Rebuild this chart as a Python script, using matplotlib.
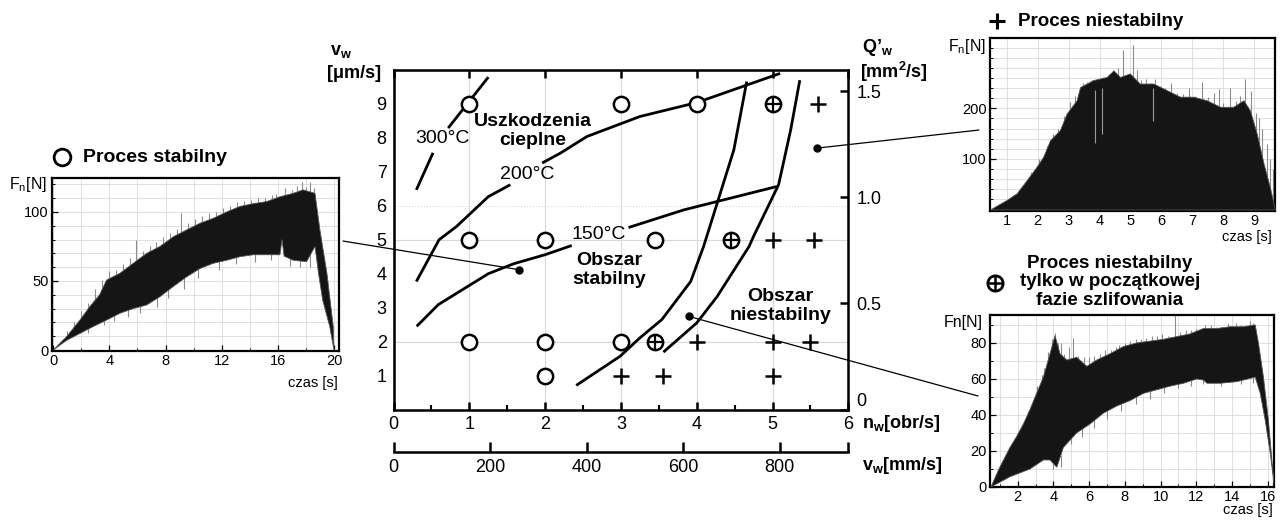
import numpy as np
import matplotlib.pyplot as plt
from matplotlib.lines import Line2D
from matplotlib.patches import ConnectionPatch, Polygon
from matplotlib.ticker import MultipleLocator

plt.rcParams['font.family'] = ['Liberation Sans', 'DejaVu Sans']
plt.rcParams['mathtext.fontset'] = 'custom'
plt.rcParams['mathtext.rm'] = 'Liberation Sans'
plt.rcParams['mathtext.bf'] = 'Liberation Sans:bold'
plt.rcParams['mathtext.it'] = 'Liberation Sans:italic'

# ---------------- main map: n_w [obr/s] vs v_w [um/s] ----------------
stable_n = [1, 3, 4, 1, 2, 3.45, 1, 2, 3, 2]
stable_v = [9, 9, 9, 5, 5, 5, 2, 2, 2, 1]
partial_n = [5, 4.45, 3.45]
partial_v = [9, 5, 2]
unstable_n = [5.6, 5, 5.55, 4, 5, 5.5, 3, 3.55, 5]
unstable_v = [9, 5, 5, 2, 2, 2, 1, 1, 1]

# isotherms (split where the label sits)
iso300_a_n = [0.30, 0.52]
iso300_a_v = [6.47, 7.56]
iso300_b_n = [0.72, 1.25]
iso300_b_v = [8.29, 9.79]
iso200_a_n = [0.30, 0.60, 0.83, 1.25, 1.54]
iso200_a_v = [3.77, 5.00, 5.39, 6.27, 6.62]
iso200_b_n = [1.96, 2.20, 2.55, 3.25, 4.00, 5.10]
iso200_b_v = [7.26, 7.55, 8.04, 8.63, 9.04, 9.90]
iso150_a_n = [0.305, 0.59, 1.25, 1.58, 2.00, 2.35]
iso150_a_v = [2.45, 3.09, 4.00, 4.29, 4.56, 4.83]
iso150_b_n = [3.10, 3.83, 5.06]
iso150_b_v = [5.36, 5.88, 6.57]

# stability boundaries
bound_a_n = [2.41, 2.99, 3.25, 3.54, 3.92, 4.09, 4.28, 4.49, 4.66]
bound_a_v = [0.71, 1.57, 2.11, 2.65, 3.77, 4.80, 6.15, 7.65, 9.66]
bound_b_n = [3.56, 4.00, 4.27, 4.69, 4.75, 5.08, 5.24, 5.36]
bound_b_v = [1.69, 2.55, 3.33, 4.80, 5.10, 6.62, 8.24, 9.70]

# measurement points shown in the insets
probe_n = [1.65, 3.90, 5.59]
probe_v = [4.12, 2.74, 7.70]

n_ticks = [0, 1, 2, 3, 4, 5, 6]
v_ticks = [1, 2, 3, 4, 5, 6, 7, 8, 9]
q_ticks = [0, 0.5, 1.0, 1.5]
q_labels = ['0', '0.5', '1.0', '1.5']
vmm_ticks = [0, 200, 400, 600, 800]
wheel_d = 50  # mm, v_w = pi*d*n_w

# ---------------- insets: F_n(t) ----------------
# stable process
st_up_t = [0, 0.95, 1.9, 2.6, 3.3, 3.8, 4.75, 5.7, 6.65, 7.6, 8.55, 9.5, 10.45, 11.4, 12.35,
           13.3, 14.25, 15.2, 16.15, 17.1, 17.8, 18.65, 19.0, 19.5, 19.95, 20.0]
st_up_f = [0, 9.7, 21.7, 31.4, 40, 50.7, 55.6, 62.8, 70, 75, 82, 87, 91.8, 95.4, 100,
           104, 106, 107.5, 111, 113.5, 116, 113.5, 87, 55.6, 17, 0]
st_lo_t = [0, 0.95, 1.9, 2.85, 3.8, 4.75, 5.7, 6.65, 7.6, 8.55, 9.5, 10.45, 11.4, 12.35, 13.3,
           14.25, 15.2, 16.15, 16.3, 16.45, 17.1, 18.05, 18.65, 18.9, 19.2, 19.7, 20.0]
st_lo_f = [0, 7, 12, 17, 21.7, 26.6, 30, 32.6, 38.6, 46, 53, 59, 62.8, 65, 67.6,
           69, 69, 69, 80, 68, 65, 64, 75, 55.6, 36, 17, 0]
st_spk_t = [1.0, 1.5, 2.0, 2.5, 3.0, 3.5, 4.0, 4.5, 5.0, 5.5, 5.9, 6.4, 6.9, 7.3, 7.8, 8.3,
            8.8, 9.1, 9.6, 10.1, 10.6, 11.1, 11.6, 12.1, 12.6, 13.1, 13.6, 14.1, 14.6, 15.1,
            15.6, 15.9, 16.5, 17.0, 17.4, 17.7, 18.0, 18.3, 18.6]
st_spk_f = [14, 20, 28, 34, 44, 51, 57, 58, 62, 67, 80, 72, 75, 78, 82, 85,
            88, 99, 92, 95, 97, 99, 100, 103, 104, 107, 108, 109, 110, 110,
            112, 113, 117, 116, 119, 122, 118, 122, 117]
st_dn_t = [2.5, 3.6, 4.3, 5.3, 6.2, 7.4, 8.2, 9.3, 10.3, 11.8, 13.0, 14.4, 15.5, 16.9, 17.6, 18.3]
st_dn_lo = [12, 18, 21, 24, 27, 31, 38, 44, 52, 58, 62, 64, 65, 61, 60, 60]
st_dn_hi = [18, 24, 28, 32, 35, 40, 48, 56, 64, 68, 72, 74, 74, 70, 70, 70]

# unstable process
un_t = [0.46, 1.0, 1.32, 1.65, 1.97, 2.18, 2.4, 2.72, 2.94, 3.26, 3.37, 3.8, 4.23, 4.45, 4.66,
        4.98, 5.3, 5.74, 6.17, 6.6, 7.03, 7.46, 7.9, 8.32, 8.65, 8.86, 9.08, 9.3, 9.5, 9.67]
un_f = [0, 19, 32, 58.5, 85, 104.5, 137, 157, 190, 216, 242, 256, 262, 275, 262,
        269, 249, 249, 236, 223, 223, 216, 203, 203, 216, 196, 150, 91, 45, 0]
un_spk_t = [1.2, 1.5, 1.8, 2.05, 2.3, 2.5, 2.65, 2.85, 3.05, 3.2, 3.45, 3.6, 3.75, 3.95, 4.1,
            4.3, 4.45, 4.6, 4.77, 4.9, 5.09, 5.2, 5.35, 5.5, 5.65, 5.8, 5.95, 6.1, 6.3, 6.5,
            6.7, 6.9, 7.1, 7.3, 7.5, 7.7, 7.85, 8.0, 8.2, 8.4, 8.55, 8.7, 8.9, 9.05, 9.15,
            9.25, 9.4, 9.5, 9.6]
un_spk_f = [28, 45, 75, 100, 125, 150, 160, 185, 212, 225, 250, 252, 255, 250, 262,
            268, 275, 280, 315, 262, 325, 276, 255, 258, 250, 258, 245, 240, 250, 230,
            228, 240, 225, 253, 222, 230, 238, 210, 240, 215, 225, 257, 235, 190, 180,
            160, 130, 100, 80]
un_gap_t = [3.85, 4.08, 5.72]
un_gap_lo = [131, 150, 175]
un_gap_hi = [236, 240, 240]

# unstable only at the beginning
pa_up_t = [0.5, 1.0, 1.57, 1.94, 2.32, 2.69, 3.06, 3.44, 3.81, 4.09, 4.37, 4.75, 5.3, 5.87, 6.43,
           7.17, 7.92, 8.67, 9.41, 10.16, 10.9, 11.65, 12.4, 13.15, 13.9, 14.64, 15.3, 15.48,
           15.76, 16.04, 16.23, 16.38]
pa_up_f = [0, 11, 22, 28, 35, 43, 52, 61, 74, 84, 74, 70.5, 72, 67, 70.5,
           74, 78, 80, 81, 82, 83.5, 85, 88, 88, 89, 89, 90, 80,
           61, 37, 15, 0]
pa_lo_t = [0.5, 1.57, 2.69, 3.44, 3.81, 4.19, 4.56, 5.3, 6.05, 6.8, 7.55, 8.3, 9.04, 9.79, 10.53,
           11.28, 12.03, 12.4, 12.6, 13.34, 14.27, 15.3, 15.58, 15.86, 16.14, 16.38]
pa_lo_f = [0, 5.7, 10, 15, 15, 11, 22, 30, 35, 41, 45, 48, 52, 54, 56,
           57.6, 60, 59.4, 57.6, 57.6, 58.5, 61, 52, 37, 18.7, 0]
pa_spk_t = [1.3, 2.0, 2.6, 3.1, 3.35, 3.5, 3.7, 3.9, 4.09, 4.25, 4.4, 4.6, 4.85, 5.12, 5.4,
            5.7, 6.0, 6.3, 6.6, 6.9, 7.2, 7.5, 7.7, 8.0, 8.3, 8.6, 8.9, 9.2, 9.5, 9.8, 10.1,
            10.4, 10.8, 11.1, 11.4, 11.7, 12.0, 12.5, 12.8, 13.1, 13.4, 13.8, 14.2, 14.5,
            14.8, 15.0, 15.2]
pa_spk_f = [16, 30, 42, 56, 62, 66, 75, 82, 85.4, 80, 80, 74, 78, 82.6, 73,
            72, 72, 73, 74, 76, 76, 78, 79, 80, 81, 82, 82, 83, 84, 84, 85,
            84, 96, 86, 87, 87, 88, 90, 90, 89, 89, 91, 91, 90,
            90, 92, 91]
pa_dn_t = [4.0, 4.4, 5.0, 5.6, 6.3, 7.0, 7.8, 8.6, 9.4, 10.2, 11.0, 11.7, 12.4, 13.4, 14.5, 15.2]
pa_dn_lo = [10, 11, 24, 28, 33, 38, 42, 46, 49, 52, 55, 56, 57, 56, 57, 58]
pa_dn_hi = [18, 18, 32, 38, 42, 46, 50, 54, 56, 60, 62, 64, 64, 64, 64, 66]

W, H = 1288, 522


def fxy(x, y):
    # pixel position -> figure fraction
    return x / W, 1 - y / H


fig = plt.figure(figsize=(W / 100, H / 100), dpi=100)

# ================= main chart =================
ax = fig.add_axes([393.6 / W, 1 - 409.5 / H, 454.7 / W, 339.5 / H])
ax.set_xlim(0, 6)
ax.set_ylim(0, 10)
ax.set_xticks(n_ticks)
ax.xaxis.set_minor_locator(MultipleLocator(0.5))
ax.set_yticks(v_ticks)
ax.tick_params(axis='x', which='major', direction='in', length=6, width=1.8,
               top=True, labelsize=13, pad=5)
ax.tick_params(axis='x', which='minor', direction='in', length=3.5, width=1.5)
ax.tick_params(axis='y', length=0, labelsize=13, pad=5)
for s in ax.spines.values():
    s.set_linewidth(1.8)
ax.grid(axis='x', color='#d8d8d8', lw=0.8)
for yy in (2, 5):
    ax.axhline(yy, color='#d8d8d8', lw=0.8, zorder=0)
ax.axhline(6, color='#d8d8d8', lw=0.8, ls=':', zorder=0)

line_kw = dict(color='k', lw=2.0, solid_capstyle='butt')
for xs, ys in [(iso300_a_n, iso300_a_v), (iso300_b_n, iso300_b_v),
               (iso200_a_n, iso200_a_v), (iso200_b_n, iso200_b_v),
               (iso150_a_n, iso150_a_v), (iso150_b_n, iso150_b_v),
               (bound_a_n, bound_a_v), (bound_b_n, bound_b_v)]:
    ax.plot(xs, ys, **line_kw)

ax.plot(stable_n, stable_v, 'o', ms=11, mfc='white', mec='k', mew=1.8, zorder=4)
ax.plot(partial_n, partial_v, 'o', ms=11, mfc='white', mec='k', mew=1.8, zorder=4)
ax.plot(partial_n, partial_v, '+', ms=11, mec='k', mew=1.6, zorder=5)
ax.plot(unstable_n, unstable_v, '+', ms=12, mec='k', mew=1.8, zorder=4)
ax.plot(probe_n, probe_v, 'o', ms=5, color='k', zorder=5)

ax.text(0.64, 7.98, '300°C', fontsize=14, ha='center', va='center')
ax.text(1.76, 6.91, '200°C', fontsize=14, ha='center', va='center')
ax.text(2.71, 5.15, '150°C', fontsize=14, ha='center', va='center')
ax.text(1.84, 8.2, 'Uszkodzenia\ncieplne', fontsize=14, fontweight='bold',
        ha='center', va='center', linespacing=1.15)
ax.text(2.85, 4.12, 'Obszar\nstabilny', fontsize=14, fontweight='bold',
        ha='center', va='center', linespacing=1.15)
ax.text(5.1, 3.06, 'Obszar\nniestabilny', fontsize=14, fontweight='bold',
        ha='center', va='center', linespacing=1.15)

# right axis: Q'_w
ax2 = ax.twinx()
ax2.set_ylim(0, 1.6)
ax2.set_yticks(q_ticks)
ax2.set_yticklabels(q_labels)
ax2.tick_params(axis='y', direction='in', length=6, width=1.8, labelsize=13, pad=6)
ax2.get_yticklabels()[0].set_va('bottom')

# second x axis: v_w [mm/s]
sec = ax.secondary_xaxis(-42.2 / 339.5, functions=(lambda n: n * np.pi * wheel_d,
                                                     lambda v: v / (np.pi * wheel_d)))
sec.set_xticks(vmm_ticks + [6 * np.pi * wheel_d])
sec.set_xticklabels([str(v) for v in vmm_ticks] + [''])
sec.tick_params(direction='in', length=7, width=1.8, labelsize=13, pad=5)
sec.spines['bottom'].set_linewidth(1.8)

fig.text(*fxy(330, 52), r'$\mathbf{v}_\mathbf{w}$', fontsize=13, ha='left', va='center')
fig.text(*fxy(327, 74), '[μm/s]', fontsize=13, fontweight='bold', ha='left', va='center')
fig.text(*fxy(862, 48), 'Q’$_\\mathbf{w}$', fontsize=13, fontweight='bold', ha='left', va='center')
fig.text(*fxy(860, 72), '[mm$^\\mathbf{2}$/s]', fontsize=13, fontweight='bold', ha='left', va='center')
fig.text(*fxy(862, 424), 'n$_\\mathbf{w}$[obr/s]', fontsize=13, fontweight='bold', ha='left', va='center')
fig.text(*fxy(862, 466), 'v$_\\mathbf{w}$[mm/s]', fontsize=13, fontweight='bold', ha='left', va='center')


# ================= insets =================
def style_inset(a):
    for s in a.spines.values():
        s.set_linewidth(1.6)
    a.grid(which='both', color='#dadada', lw=0.6)
    a.set_axisbelow(True)
    a.tick_params(which='major', direction='in', length=4, width=0.9, labelsize=10.5, pad=2.5)
    a.tick_params(which='minor', direction='in', length=2.5, width=0.7)


def above(a, t, f, top):
    # region above the lower envelope, used to clip the spikes
    poly = Polygon(np.c_[np.r_[t, t[-1], t[0]], np.r_[f, top, top]],
                   closed=True, transform=a.transData, fc='none', ec='none')
    a.add_patch(poly)
    return poly


fill_c = '#151515'
spk_c = '#8c8c8c'

# stable
ax_s = fig.add_axes([52.3 / W, 1 - 350.7 / H, 286.7 / W, 172.7 / H])
ax_s.set_xlim(-0.07, 20.36)
ax_s.set_ylim(-0.5, 124.6)
ax_s.set_xticks([0, 4, 8, 12, 16, 20])
ax_s.xaxis.set_minor_locator(MultipleLocator(2))
ax_s.set_yticks([0, 50, 100])
ax_s.yaxis.set_minor_locator(MultipleLocator(10))
style_inset(ax_s)
clip_s = above(ax_s, st_lo_t, st_lo_f, 200)
spk = ax_s.vlines(st_spk_t, 0, st_spk_f, color=spk_c, lw=0.8, zorder=2)
spk.set_clip_path(clip_s)
ax_s.vlines(st_dn_t, st_dn_lo, st_dn_hi, color=spk_c, lw=0.8, zorder=2)
ax_s.fill(np.r_[st_up_t, st_lo_t[::-1]], np.r_[st_up_f, st_lo_f[::-1]],
          color=fill_c, lw=0.6, ec='#555555', zorder=3)
fig.text(*fxy(47, 184), 'F$_\\mathregular{n}$[N]', fontsize=11.5, ha='right', va='center')
fig.text(*fxy(338, 383), 'czas [s]', fontsize=10.5, ha='right', va='center')
fig.add_artist(Line2D([62 / W], [1 - 157 / H], marker='o', ms=12, mfc='none', mec='k',
                      mew=2, transform=fig.transFigure))
fig.text(*fxy(83, 157), 'Proces stabilny', fontsize=14, fontweight='bold', ha='left', va='center')

# unstable
ax_u = fig.add_axes([990 / W, 1 - 211 / H, 285 / W, 173 / H])
ax_u.set_xlim(0.46, 9.67)
ax_u.set_ylim(-3, 339)
ax_u.set_xticks([1, 2, 3, 4, 5, 6, 7, 8, 9])
ax_u.set_yticks([100, 200])
ax_u.yaxis.set_minor_locator(MultipleLocator(20))
style_inset(ax_u)
ax_u.vlines(un_spk_t, 0, un_spk_f, color=spk_c, lw=0.8, zorder=2)
ax_u.fill_between(un_t, 0, un_f, color=fill_c, lw=0.6, ec='#555555', zorder=3)
ax_u.vlines(un_gap_t, un_gap_lo, un_gap_hi, color='#9a9a9a', lw=0.8, zorder=4)
fig.text(*fxy(986, 46), 'F$_\\mathregular{n}$[N]', fontsize=11.5, ha='right', va='center')
fig.text(*fxy(1272, 237), 'czas [s]', fontsize=10.5, ha='right', va='center')
fig.add_artist(Line2D([997 / W], [1 - 21 / H], marker='+', ms=12, mec='k',
                      mew=2.2, transform=fig.transFigure))
fig.text(*fxy(1018, 21), 'Proces niestabilny', fontsize=13.5, fontweight='bold', ha='left', va='center')

# unstable only at the beginning
ax_p = fig.add_axes([990 / W, 1 - 487 / H, 284 / W, 172 / H])
ax_p.set_xlim(0.45, 16.35)
ax_p.set_ylim(0, 95.5)
ax_p.set_xticks([2, 4, 6, 8, 10, 12, 14, 16])
ax_p.xaxis.set_minor_locator(MultipleLocator(1))
ax_p.set_yticks([0, 20, 40, 60, 80])
ax_p.yaxis.set_minor_locator(MultipleLocator(10))
style_inset(ax_p)
clip_p = above(ax_p, pa_lo_t, pa_lo_f, 150)
spk = ax_p.vlines(pa_spk_t, 0, pa_spk_f, color=spk_c, lw=0.8, zorder=2)
spk.set_clip_path(clip_p)
ax_p.vlines(pa_dn_t, pa_dn_lo, pa_dn_hi, color=spk_c, lw=0.8, zorder=2)
ax_p.fill(np.r_[pa_up_t, pa_lo_t[::-1]], np.r_[pa_up_f, pa_lo_f[::-1]],
          color=fill_c, lw=0.6, ec='#555555', zorder=3)
fig.text(*fxy(983, 322), 'Fn[N]', fontsize=11.5, ha='right', va='center')
fig.text(*fxy(1273, 510), 'czas [s]', fontsize=10.5, ha='right', va='center')
fig.text(*fxy(1110, 282), 'Proces niestabilny\ntylko w początkowej\nfazie szlifowania',
         fontsize=13.5, fontweight='bold', ha='center', va='center', linespacing=1.12)
fig.add_artist(Line2D([995 / W], [1 - 283 / H], marker='o', ms=11, mfc='none', mec='k',
                      mew=2, transform=fig.transFigure))
fig.add_artist(Line2D([995 / W], [1 - 283 / H], marker='+', ms=11, mec='k',
                      mew=1.8, transform=fig.transFigure))

# leader lines from the map to the insets
for (pn, pv), (a, xy) in zip(zip(probe_n, probe_v),
                             [(ax_s, (1.014, 0.635)), (ax_p, (-0.042, 0.529)),
                              (ax_u, (-0.039, 0.468))]):
    con = ConnectionPatch(xyA=(pn, pv), coordsA='data', axesA=ax,
                          xyB=xy, coordsB='axes fraction', axesB=a,
                          color='k', lw=0.9)
    fig.add_artist(con)

fig.savefig('out.png', dpi=100)
